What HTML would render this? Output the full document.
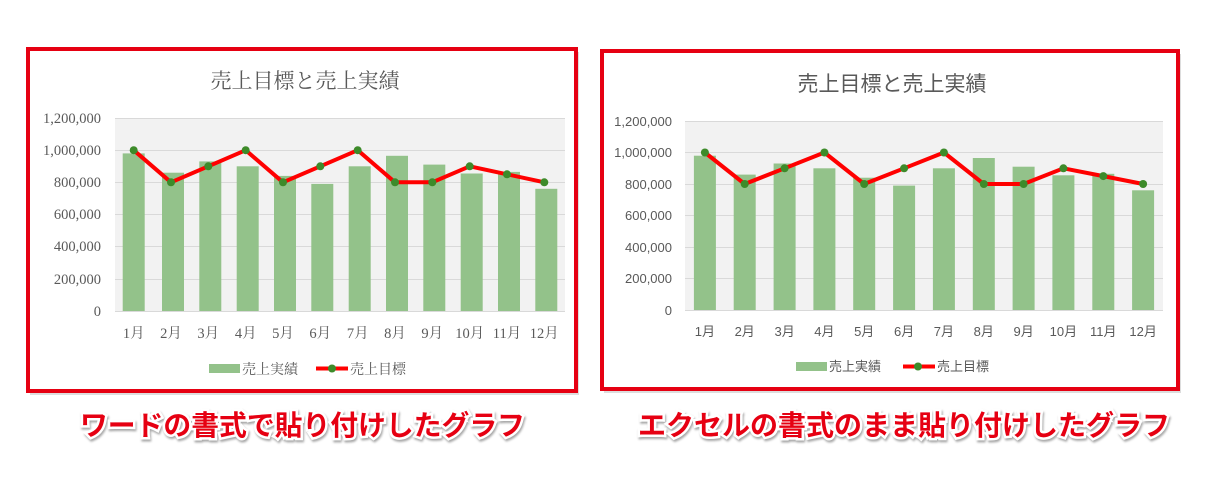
<!DOCTYPE html>
<html><head><meta charset="utf-8"><style>
html,body{margin:0;padding:0;background:#fff;width:1232px;height:503px;overflow:hidden}
svg{display:block}
.s{font-family:"Liberation Serif","Noto Serif CJK SC",serif;fill:#595959}
.g{font-family:"Liberation Sans","Noto Sans CJK JP",sans-serif;fill:#595959}
.cap{font-family:"Liberation Sans","Noto Sans CJK JP",sans-serif;font-weight:bold;font-size:28px;fill:#e60012;stroke:#fff;stroke-width:5px;paint-order:stroke;filter:drop-shadow(1px 2px 1px rgba(0,0,0,.35))}
</style></head><body>
<svg width="1232" height="503" viewBox="0 0 1232 503" xmlns="http://www.w3.org/2000/svg">
<!-- LEFT CHART -->
<rect x="30" y="52" width="549" height="343" fill="#bbb" opacity=".5"/>
<rect x="28" y="49" width="548" height="342" fill="#fff" stroke="#e60012" stroke-width="4"/>
<text class="s" x="305" y="88" font-size="21" text-anchor="middle">売上目標と売上実績</text>
<rect x="115" y="118" width="450" height="193" fill="#f2f2f2"/>
<g stroke="#d9d9d9" stroke-width="1">
<line x1="115" x2="565" y1="118.5" y2="118.5"/><line x1="115" x2="565" y1="150.5" y2="150.5"/><line x1="115" x2="565" y1="182.5" y2="182.5"/><line x1="115" x2="565" y1="214.5" y2="214.5"/><line x1="115" x2="565" y1="246.5" y2="246.5"/><line x1="115" x2="565" y1="279.5" y2="279.5"/><line x1="115" x2="565" y1="311.5" y2="311.5"/>
</g>
<g class="s" font-size="14.5" text-anchor="end">
<text x="101" y="123">1,200,000</text><text x="101" y="155">1,000,000</text><text x="101" y="187">800,000</text><text x="101" y="219">600,000</text><text x="101" y="251">400,000</text><text x="101" y="284">200,000</text><text x="101" y="316">0</text>
</g>
<g fill="#93c28a">
<rect x="122.7" y="153.4" width="22" height="157.6"/><rect x="162" y="172.7" width="22" height="138.3"/><rect x="199.3" y="161.4" width="22" height="149.6"/><rect x="236.7" y="166.3" width="22" height="144.7"/><rect x="274" y="175.9" width="22" height="135.1"/><rect x="311.3" y="183.9" width="22" height="127.1"/><rect x="348.7" y="166.3" width="22" height="144.7"/><rect x="386" y="155.8" width="22" height="155.2"/><rect x="423.3" y="164.6" width="22" height="146.4"/><rect x="460.7" y="173.5" width="22" height="137.5"/><rect x="498" y="171.9" width="22" height="139.1"/><rect x="535.3" y="188.8" width="22" height="122.2"/>
</g>
<polyline fill="none" stroke="#ff0000" stroke-width="4" stroke-linejoin="round" points="133.7,150.2 171,182.3 208.3,166.3 245.7,150.2 283,182.3 320.3,166.3 357.7,150.2 395,182.3 432.3,182.3 469.7,166.3 507,174.3 544.3,182.3"/>
<g fill="#3d8b2a">
<circle cx="133.7" cy="150.2" r="4"/><circle cx="171" cy="182.3" r="4"/><circle cx="208.3" cy="166.3" r="4"/><circle cx="245.7" cy="150.2" r="4"/><circle cx="283" cy="182.3" r="4"/><circle cx="320.3" cy="166.3" r="4"/><circle cx="357.7" cy="150.2" r="4"/><circle cx="395" cy="182.3" r="4"/><circle cx="432.3" cy="182.3" r="4"/><circle cx="469.7" cy="166.3" r="4"/><circle cx="507" cy="174.3" r="4"/><circle cx="544.3" cy="182.3" r="4"/>
</g>
<g class="s" font-size="14.5" text-anchor="middle">
<text x="133.7" y="338">1月</text><text x="171" y="338">2月</text><text x="208.3" y="338">3月</text><text x="245.7" y="338">4月</text><text x="283" y="338">5月</text><text x="320.3" y="338">6月</text><text x="357.7" y="338">7月</text><text x="395" y="338">8月</text><text x="432.3" y="338">9月</text><text x="469.7" y="338">10月</text><text x="507" y="338">11月</text><text x="544.3" y="338">12月</text>
</g>
<rect x="209" y="364" width="31" height="9" fill="#93c28a"/>
<text class="s" x="242" y="374" font-size="14">売上実績</text>
<line x1="316" x2="348" y1="368.5" y2="368.5" stroke="#ff0000" stroke-width="4"/>
<circle cx="332" cy="368.5" r="4" fill="#3d8b2a"/>
<text class="s" x="350" y="374" font-size="14">売上目標</text>

<!-- RIGHT CHART -->
<rect x="604" y="54" width="577" height="339" fill="#bbb" opacity=".5"/>
<rect x="602" y="51" width="576" height="338" fill="#fff" stroke="#e60012" stroke-width="4"/>
<text class="g" x="892" y="91" font-size="21" text-anchor="middle">売上目標と売上実績</text>
<rect x="685" y="121" width="478" height="189" fill="#f2f2f2"/>
<g stroke="#d9d9d9" stroke-width="1">
<line x1="685" x2="1163" y1="121.5" y2="121.5"/><line x1="685" x2="1163" y1="152.5" y2="152.5"/><line x1="685" x2="1163" y1="184.5" y2="184.5"/><line x1="685" x2="1163" y1="215.5" y2="215.5"/><line x1="685" x2="1163" y1="247.5" y2="247.5"/><line x1="685" x2="1163" y1="278.5" y2="278.5"/><line x1="685" x2="1163" y1="310.5" y2="310.5"/>
</g>
<g class="g" font-size="13" text-anchor="end">
<text x="672" y="126">1,200,000</text><text x="672" y="157">1,000,000</text><text x="672" y="189">800,000</text><text x="672" y="220">600,000</text><text x="672" y="252">400,000</text><text x="672" y="283">200,000</text><text x="672" y="315">0</text>
</g>
<g fill="#93c28a">
<rect x="693.9" y="155.7" width="22" height="154.3"/><rect x="733.7" y="174.6" width="22" height="135.4"/><rect x="773.6" y="163.5" width="22" height="146.5"/><rect x="813.4" y="168.3" width="22" height="141.7"/><rect x="853.2" y="177.7" width="22" height="132.3"/><rect x="893.1" y="185.6" width="22" height="124.4"/><rect x="932.9" y="168.3" width="22" height="141.7"/><rect x="972.8" y="158" width="22" height="152"/><rect x="1012.6" y="166.7" width="22" height="143.3"/><rect x="1052.4" y="175.3" width="22" height="134.7"/><rect x="1092.3" y="173.8" width="22" height="136.2"/><rect x="1132.1" y="190.3" width="22" height="119.7"/>
</g>
<polyline fill="none" stroke="#ff0000" stroke-width="4" stroke-linejoin="round" points="704.9,152.5 744.7,184 784.6,168.3 824.4,152.5 864.2,184 904.1,168.3 943.9,152.5 983.8,184 1023.6,184 1063.4,168.3 1103.3,176.1 1143.1,184"/>
<g fill="#3d8b2a">
<circle cx="704.9" cy="152.5" r="4"/><circle cx="744.7" cy="184" r="4"/><circle cx="784.6" cy="168.3" r="4"/><circle cx="824.4" cy="152.5" r="4"/><circle cx="864.2" cy="184" r="4"/><circle cx="904.1" cy="168.3" r="4"/><circle cx="943.9" cy="152.5" r="4"/><circle cx="983.8" cy="184" r="4"/><circle cx="1023.6" cy="184" r="4"/><circle cx="1063.4" cy="168.3" r="4"/><circle cx="1103.3" cy="176.1" r="4"/><circle cx="1143.1" cy="184" r="4"/>
</g>
<g class="g" font-size="13" text-anchor="middle">
<text x="704.9" y="336">1月</text><text x="744.7" y="336">2月</text><text x="784.6" y="336">3月</text><text x="824.4" y="336">4月</text><text x="864.2" y="336">5月</text><text x="904.1" y="336">6月</text><text x="943.9" y="336">7月</text><text x="983.8" y="336">8月</text><text x="1023.6" y="336">9月</text><text x="1063.4" y="336">10月</text><text x="1103.3" y="336">11月</text><text x="1143.1" y="336">12月</text>
</g>
<rect x="796" y="362" width="31" height="9" fill="#93c28a"/>
<text class="g" x="829" y="371" font-size="13">売上実績</text>
<line x1="903" x2="935" y1="366.5" y2="366.5" stroke="#ff0000" stroke-width="4"/>
<circle cx="918" cy="366.5" r="4" fill="#3d8b2a"/>
<text class="g" x="937" y="371" font-size="13">売上目標</text>

<!-- CAPTIONS -->
<text class="cap" x="80" y="435" textLength="445" lengthAdjust="spacingAndGlyphs">ワードの書式で貼り付けしたグラフ</text>
<text class="cap" x="638" y="435" textLength="532" lengthAdjust="spacingAndGlyphs">エクセルの書式のまま貼り付けしたグラフ</text>
</svg>
</body></html>
